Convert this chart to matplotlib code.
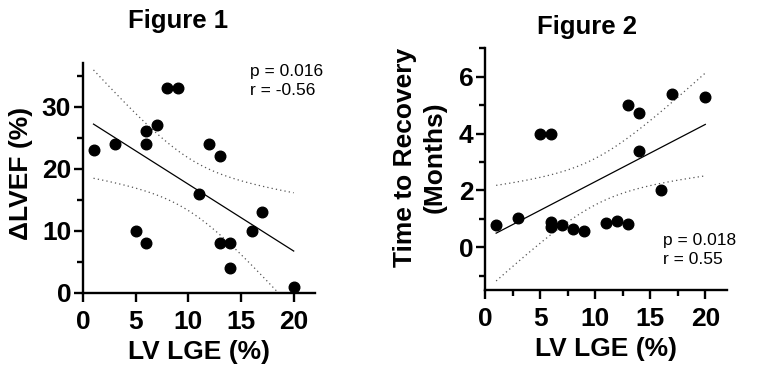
import matplotlib
matplotlib.use("Agg")
import matplotlib.pyplot as plt
from matplotlib.ticker import MultipleLocator
import numpy as np

plt.rcParams["font.family"] = ["Liberation Sans", "DejaVu Sans"]

# Figure 1: LV LGE vs change in LVEF
lge_1 = [1, 3, 5, 6, 6, 6, 7, 8, 9, 11, 12, 13, 13, 14, 14, 16, 17, 20]
dlvef = [23, 24, 10, 8, 24, 26, 27, 33, 33, 16, 24, 22, 8, 8, 4, 10, 13, 1]

# Figure 2: LV LGE vs time to recovery
lge_2 = [1, 3, 5, 6, 6, 6, 7, 8, 9, 11, 12, 13, 13, 14, 14, 16, 17, 20]
recovery = [0.8, 1.02, 4.0, 4.0, 0.88, 0.72, 0.78, 0.63, 0.57, 0.86, 0.93,
            0.82, 5.0, 4.72, 3.39, 2.0, 5.39, 5.28]

stats_1 = "p = 0.016\nr = -0.56"
stats_2 = "p = 0.018\nr = 0.55"

T_CRIT = 2.120  # t(0.975, df=16)
BIG = 19


def fit_with_band(x, y):
    x = np.asarray(x, float)
    y = np.asarray(y, float)
    slope, icpt = np.polyfit(x, y, 1)
    n = len(x)
    resid = y - (slope * x + icpt)
    s = np.sqrt(np.sum(resid ** 2) / (n - 2))
    sxx = np.sum((x - x.mean()) ** 2)
    xs = np.linspace(x.min(), x.max(), 100)
    ys = slope * xs + icpt
    half = T_CRIT * s * np.sqrt(1.0 / n + (xs - x.mean()) ** 2 / sxx)
    return xs, ys, ys - half, ys + half


def style_axes(ax):
    for side in ("top", "right"):
        ax.spines[side].set_visible(False)
    for side in ("left", "bottom"):
        ax.spines[side].set_linewidth(1.7)
    ax.tick_params(which="major", length=6.5, width=1.7, labelsize=BIG)
    ax.tick_params(which="minor", length=4.5, width=1.7)
    ax.tick_params(axis="x", pad=6)
    ax.tick_params(axis="y", pad=2)
    for lab in ax.get_xticklabels() + ax.get_yticklabels():
        lab.set_fontweight("bold")


def draw(ax, x, y):
    xs, ys, lo, hi = fit_with_band(x, y)
    ax.plot(xs, ys, color="black", lw=0.9, zorder=2)
    ax.plot(xs, lo, color="#555555", lw=0.9, ls=(0, (1, 2.5)), zorder=2)
    ax.plot(xs, hi, color="#555555", lw=0.9, ls=(0, (1, 2.5)), zorder=2)
    ax.scatter(x, y, s=58, color="black", zorder=3, clip_on=False)


fig = plt.figure(figsize=(7.64, 3.92), dpi=100)

ax1 = fig.add_axes([0.1086, 0.2526, 0.3034, 0.5864])
draw(ax1, lge_1, dlvef)
ax1.set_xlim(0, 22)
ax1.set_ylim(0, 37)
ax1.xaxis.set_major_locator(MultipleLocator(5))
ax1.yaxis.set_major_locator(MultipleLocator(10))
ax1.yaxis.set_minor_locator(MultipleLocator(5))
style_axes(ax1)
ax1.set_xlabel("LV LGE (%)", fontsize=BIG, fontweight="bold", labelpad=4)
ax1.set_ylabel("ΔLVEF (%)", fontsize=BIG, fontweight="bold")
ax1.yaxis.set_label_coords(-0.216, 0.52)
ax1.text(15.9, 36.8, stats_1, fontsize=12.5, va="top", ha="left",
         linespacing=1.3)
fig.text(178 / 764, 1 - 21 / 392, "Figure 1", fontsize=18.5,
         fontweight="bold", ha="center", va="center")

ax2 = fig.add_axes([0.635, 0.260, 0.317, 0.617])
draw(ax2, lge_2, recovery)
ax2.set_xlim(0, 22)
ax2.set_ylim(-1.5, 7)
ax2.xaxis.set_major_locator(MultipleLocator(5))
ax2.xaxis.set_minor_locator(MultipleLocator(2.5))
ax2.yaxis.set_major_locator(MultipleLocator(2))
ax2.yaxis.set_minor_locator(MultipleLocator(1))
style_axes(ax2)
ax2.set_xlabel("LV LGE (%)", fontsize=BIG, fontweight="bold", labelpad=4)
ax2.set_ylabel("Time to Recovery\n(Months)", fontsize=BIG, fontweight="bold",
               linespacing=1.3)
ax2.yaxis.set_label_coords(-0.157, 0.55)
ax2.text(16.2, 0.5, stats_2, fontsize=12.5, va="top", ha="left",
         linespacing=1.3)
fig.text(587 / 764, 1 - 27 / 392, "Figure 2", fontsize=18.5,
         fontweight="bold", ha="center", va="center")

fig.savefig("out.png", dpi=100)
